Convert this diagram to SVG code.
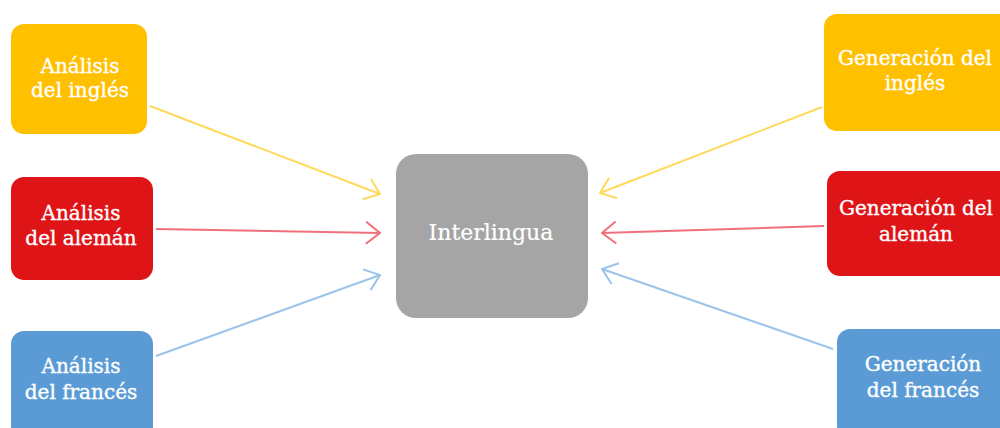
<svg xmlns="http://www.w3.org/2000/svg" width="1000" height="428" viewBox="0 0 1000 428">
<defs>
<style>
.t{font-family:"DejaVu Serif","Liberation Serif",serif;font-size:20px;fill:#fff;stroke:#fff;stroke-width:0.35;text-anchor:middle}
.c{font-size:22px;stroke-width:0.2}
.y{fill:#FFC000}.r{fill:#DF1416}.b{fill:#5B9BD5}.g{fill:#A5A5A5}
.ly{stroke:#FFD95A;stroke-width:2;fill:none}
.lr{stroke:#F0707A;stroke-width:2;fill:none}
.lb{stroke:#9CC3EA;stroke-width:2;fill:none}
</style>
<marker id="my" viewBox="0 0 16 24" refX="15" refY="12" markerWidth="16" markerHeight="24" markerUnits="userSpaceOnUse" orient="auto"><path d="M1,1 L15,12 L1,23" fill="none" stroke="#FFD95A" stroke-width="2"/></marker>
<marker id="mr" viewBox="0 0 16 24" refX="15" refY="12" markerWidth="16" markerHeight="24" markerUnits="userSpaceOnUse" orient="auto"><path d="M1,1 L15,12 L1,23" fill="none" stroke="#F0707A" stroke-width="2"/></marker>
<marker id="mb" viewBox="0 0 16 24" refX="15" refY="12" markerWidth="16" markerHeight="24" markerUnits="userSpaceOnUse" orient="auto"><path d="M1,1 L15,12 L1,23" fill="none" stroke="#9CC3EA" stroke-width="2"/></marker>
</defs>
<rect width="1000" height="428" fill="#fff"/>
<g id="connectors">
<line class="ly" x1="150" y1="106" x2="380" y2="194" marker-end="url(#my)"/>
<line class="lr" x1="156" y1="229" x2="380" y2="233" marker-end="url(#mr)"/>
<line class="lb" x1="156" y1="356" x2="380" y2="275" marker-end="url(#mb)"/>
<line class="ly" x1="822" y1="107" x2="600" y2="193" marker-end="url(#my)"/>
<line class="lr" x1="824" y1="226" x2="602" y2="233" marker-end="url(#mr)"/>
<line class="lb" x1="833" y1="349" x2="602" y2="269" marker-end="url(#mb)"/>
</g>
<g id="interlingua"><rect class="g" x="396" y="154" width="192" height="164" rx="20"/><text class="t c" x="491" y="240">Interlingua</text></g>
<g id="analisis-ingles"><rect class="y" x="11" y="24" width="136" height="110" rx="13"/><text class="t" x="80" y="73">Análisis</text><text class="t" x="80" y="97">del inglés</text></g>
<g id="analisis-aleman"><rect class="r" x="11" y="177" width="142" height="103" rx="13"/><text class="t" x="81" y="220">Análisis</text><text class="t" x="81" y="245">del alemán</text></g>
<g id="analisis-frances"><rect class="b" x="11" y="331" width="142" height="110" rx="13"/><text class="t" x="81" y="373">Análisis</text><text class="t" x="81" y="399">del francés</text></g>
<g id="generacion-ingles"><rect class="y" x="824" y="14" width="190" height="117" rx="13"/><text class="t" x="915" y="65">Generación del</text><text class="t" x="915" y="90">inglés</text></g>
<g id="generacion-aleman"><rect class="r" x="827" y="171" width="190" height="105" rx="13"/><text class="t" x="916" y="215">Generación del</text><text class="t" x="916" y="241">alemán</text></g>
<g id="generacion-frances"><rect class="b" x="837" y="329" width="180" height="110" rx="13"/><text class="t" x="923" y="371">Generación</text><text class="t" x="923" y="397">del francés</text></g>
</svg>
